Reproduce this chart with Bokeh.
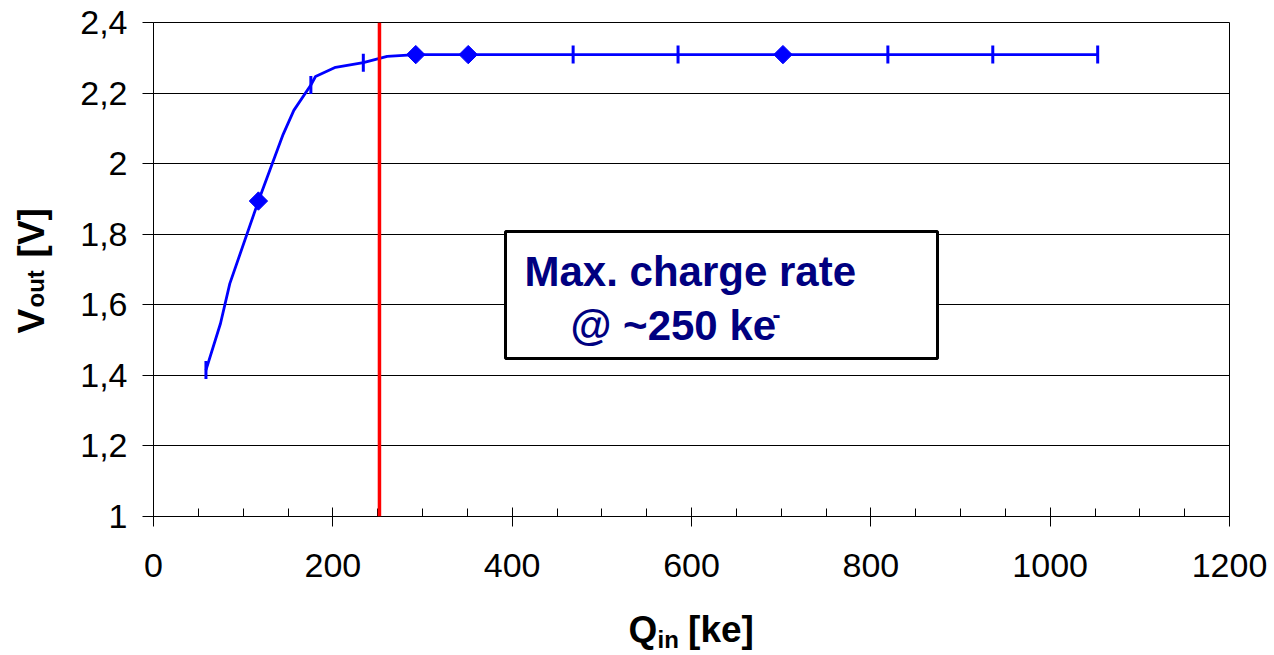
import math
from bokeh.plotting import figure
from bokeh.models import Range1d, FixedTicker, Span, BoxAnnotation, Label
from bokeh.embed import file_html
from bokeh.resources import INLINE

# ---- data ----
line_q = [58.5, 74.7, 85.1, 117.0, 144.6, 156.5, 175.5, 180.7, 203.0, 234.0, 260.6,
          292.5, 351.0, 468.0, 585.0, 702.0, 819.0, 936.0, 1053.0]
line_v = [1.415, 1.547, 1.660, 1.894, 2.083, 2.151, 2.223, 2.247, 2.273, 2.286, 2.304,
          2.309, 2.309, 2.309, 2.309, 2.309, 2.309, 2.309, 2.309]

diamond_q = [117.0, 292.5, 351.0, 702.0]
diamond_v = [1.894, 2.309, 2.309, 2.309]

dash_q = [58.5, 175.5, 234.0, 468.0, 585.0, 819.0, 936.0, 1053.0]
dash_v = [1.415, 2.223, 2.286, 2.309, 2.309, 2.309, 2.309, 2.309]

limit_q = 252.0

x_ticks = [0, 200, 400, 600, 800, 1000, 1200]
x_minor = [50, 100, 150, 250, 300, 350, 450, 500, 550, 650, 700, 750,
           850, 900, 950, 1050, 1100, 1150]
y_ticks = [1.0, 1.2, 1.4, 1.6, 1.8, 2.0, 2.2, 2.4]
y_tick_labels = ["1", "1,2", "1,4", "1,6", "1,8", "2", "2,2", "2,4"]

FONT = "Liberation Sans"
W, H = 1274, 655
L, R, T, B = 153, 1229, 22, 516
X0, X1, Y0, Y1 = 0, 1200, 1.0, 2.4
NB = "\u00a0"  # non-breaking space (kept by SVG text, unlike plain spaces)


def dx(px):
    return X0 + (px - L) * (X1 - X0) / (R - L)


def dy(py):
    return Y0 + (B - py) * (Y1 - Y0) / (B - T)


p = figure(width=W, height=H, output_backend="svg", toolbar_location=None,
           x_range=Range1d(X0, X1), y_range=Range1d(Y0, Y1),
           min_border_left=L, min_border_right=W - R,
           min_border_top=T, min_border_bottom=H - B)
p.background_fill_color = "white"
p.border_fill_color = "white"
p.outline_line_color = "black"
p.outline_line_width = 1

# axes
p.xaxis.ticker = FixedTicker(ticks=x_ticks, minor_ticks=x_minor)
p.yaxis.ticker = FixedTicker(ticks=y_ticks, minor_ticks=[])
p.yaxis.major_label_overrides = {t: s for t, s in zip(y_ticks, y_tick_labels)}
for ax in (p.xaxis[0], p.yaxis[0]):
    ax.axis_line_color = "black"
    ax.major_tick_line_color = "black"
    ax.minor_tick_line_color = "black"
    ax.major_label_text_font = FONT
    ax.major_label_text_font_size = "34px"
    ax.major_label_text_color = "black"
p.xaxis.major_tick_in = 9
p.xaxis.major_tick_out = 10
p.xaxis.minor_tick_in = 8
p.xaxis.minor_tick_out = 0
p.xaxis.major_label_standoff = 27
p.yaxis.major_tick_in = 0
p.yaxis.major_tick_out = 11
p.yaxis.minor_tick_in = 0
p.yaxis.minor_tick_out = 0
p.yaxis.major_label_standoff = 15

p.xgrid.visible = False
p.ygrid.ticker = FixedTicker(ticks=y_ticks)
p.ygrid.grid_line_color = "black"
p.ygrid.grid_line_width = 1

# red limit line
p.add_layout(Span(location=limit_q, dimension="height", line_color="#FF0000", line_width=3.5))

# curve and markers
p.line(line_q, line_v, line_color="#0000FF", line_width=2.8)
p.scatter(dash_q, dash_v, marker="dash", angle=math.pi / 2, size=18,
          line_color="#0000FF", line_width=3)
p.scatter(diamond_q, diamond_v, marker="square", angle=math.pi / 4, size=13,
          fill_color="#0000FF", line_color="#0000FF", line_width=1)

# annotation box
p.add_layout(BoxAnnotation(left=dx(505), right=dx(937), top=dy(231), bottom=dy(358),
                           fill_color="white", fill_alpha=1.0,
                           line_color="black", line_width=3, line_alpha=1.0))

OFF = 0.39  # empirical baseline correction (fraction of font size)


def lab(px, py, text, size, color="black", rotated=False, place="center"):
    if rotated:
        x, y = dx(px - OFF * size), dy(py)
        angle = math.pi / 2
    else:
        x, y = dx(px), dy(py - OFF * size)
        angle = 0.0
    p.add_layout(Label(x=x, y=y, text=text, text_font=FONT, text_font_style="bold",
                       text_font_size=f"{size}px", text_color=color, angle=angle,
                       text_align="left", text_baseline="alphabetic"), place)


NAVY = "#000080"
lab(524, 287, "Max. charge rate", 42, NAVY)
lab(570, 341, "@ ~250 ke", 42, NAVY)
lab(772, 323, "-", 24, NAVY)

# x axis title (side panels so that the text is not clipped by the frame)
lab(628, 643, "Q" + NB * 3 + "[ke]", 37, place="below")
lab(657, 648, "in", 24, place="right")

# y axis title (rotated)
lab(45, 333, "V" + NB * 5 + "[V]", 37, rotated=True, place="left")
lab(44, 307, "out", 24, rotated=True, place="left")

open("out.html", "w").write(file_html(p, INLINE))
